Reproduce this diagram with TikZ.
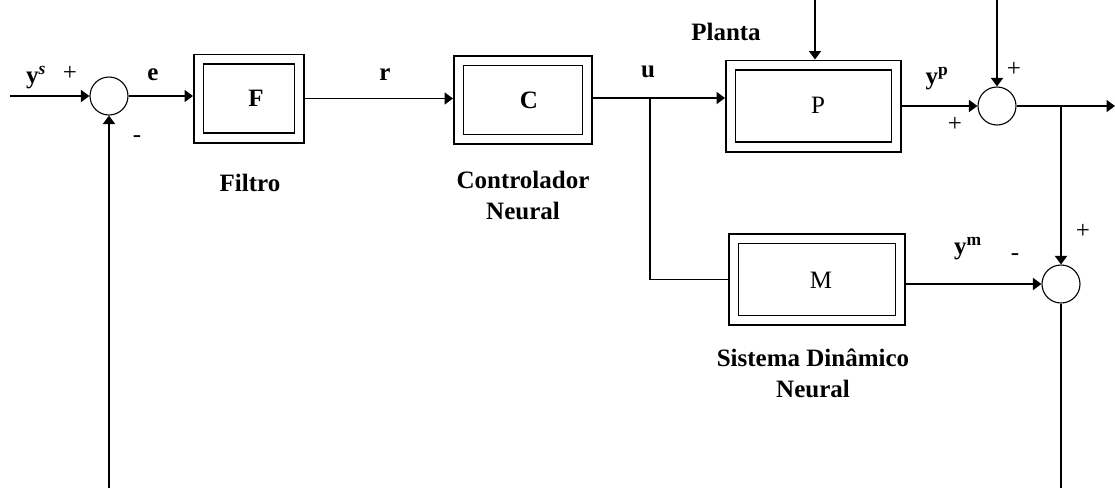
\documentclass[tikz,border=0pt]{standalone}
\usepackage{fontspec}
\setmainfont{Liberation Serif}
\usetikzlibrary{arrows.meta}
\begin{document}
\begin{tikzpicture}[x=1pt,y=-1pt,
  wire/.style={line width=1.8pt},
  arr/.style={wire,-{Triangle[length=8.5pt,width=12pt]}},
  block/.style={draw,double,line width=1.6pt,double distance=8pt,outer sep=5.6pt,inner sep=0pt,font=\fontsize{25}{30}\selectfont},
  sumc/.style={draw,circle,line width=1.1pt,minimum size=38pt,inner sep=0pt},
  lbl/.style={font=\fontsize{25}{31}\selectfont\bfseries,inner sep=0pt,align=center},
  sgn/.style={font=\fontsize{25}{28}\selectfont,inner sep=0pt}]
\useasboundingbox (0,0) rectangle (1115,488);
% blocks
\node[block,minimum width=100.8pt,minimum height=78.8pt] (F) at (249,98.5) {};
\node[block,minimum width=128.8pt,minimum height=78.8pt] (C) at (523,100) {};
\node[block,minimum width=165.8pt,minimum height=81.8pt] (P) at (813.5,106) {};
\node[block,minimum width=166.8pt,minimum height=81.8pt] (M) at (817,279.5) {};
\node[lbl] (Ft) at (256,98) {F};
\node[lbl] (Ct) at (529,100) {C};
\node[lbl,font=\fontsize{25}{30}\selectfont\mdseries] (Pt) at (818,105) {P};
\node[lbl,font=\fontsize{25}{30}\selectfont\mdseries] (Mt) at (821,280) {M};
% summing junctions
\node[sumc] (s1) at (109,96) {};
\node[sumc] (s2) at (997,106) {};
\node[sumc] (s3) at (1061,284) {};
% coordinates
\coordinate (in) at (10,96);
\coordinate (u) at (650,98);
\coordinate (d1) at (815,0);
\coordinate (d2) at (997,0);
\coordinate (b) at (1061,106);
\coordinate (out) at (1115,106);
\coordinate (fb) at (109,488);
\coordinate (bot) at (1061,488);
% connectors
\draw[arr] (in) -- (s1.west);
\draw[arr] (s1.east) -- (s1.east -| F.west);
\draw[arr] (F.east) -- (F.east -| C.west);
\draw[wire] (C.east |- u) -- (u);
\draw[arr] (u) -- (u -| P.west);
\draw[wire] (u) |- (M.west);
\draw[arr] (d1) -- (d1 |- P.north);
\draw[arr] (P.east |- s2.west) -- (s2.west);
\draw[arr] (d2) -- (s2.north);
\draw[arr] (s2.east) -- (out);
\draw[arr] (b) -- (s3.north);
\draw[arr] (M.east |- s3.west) -- (s3.west);
\draw[wire] (s3.south) -- (bot);
\draw[arr] (fb) -- (s1.south);
% labels
\node[lbl] (ys) at (36,78) {y\textsuperscript{\textit{s}}};
\node[sgn] (p1) at (70,73) {+};
\node[lbl] (e) at (153,75) {e};
\node[sgn] (m1) at (137,139) {-};
\node[lbl] (r) at (385,75) {r};
\node[lbl] (ul) at (648,72) {u};
\node[lbl] (pl) at (726,32) {Planta};
\node[lbl] (yp) at (937,79) {y\textsuperscript{p}};
\node[sgn] (p2) at (1014,69) {+};
\node[sgn] (p3) at (955,124) {+};
\node[lbl] (ym) at (968,249) {y\textsuperscript{m}};
\node[sgn] (m2) at (1015,257) {-};
\node[sgn] (p4) at (1083,231) {+};
\node[lbl] (fil) at (250,183) {Filtro};
\node[lbl] (cn) at (523,195) {Controlador\\Neural};
\node[lbl] (sd) at (813,373) {Sistema Dinâmico\\Neural};
\end{tikzpicture}
\end{document}
